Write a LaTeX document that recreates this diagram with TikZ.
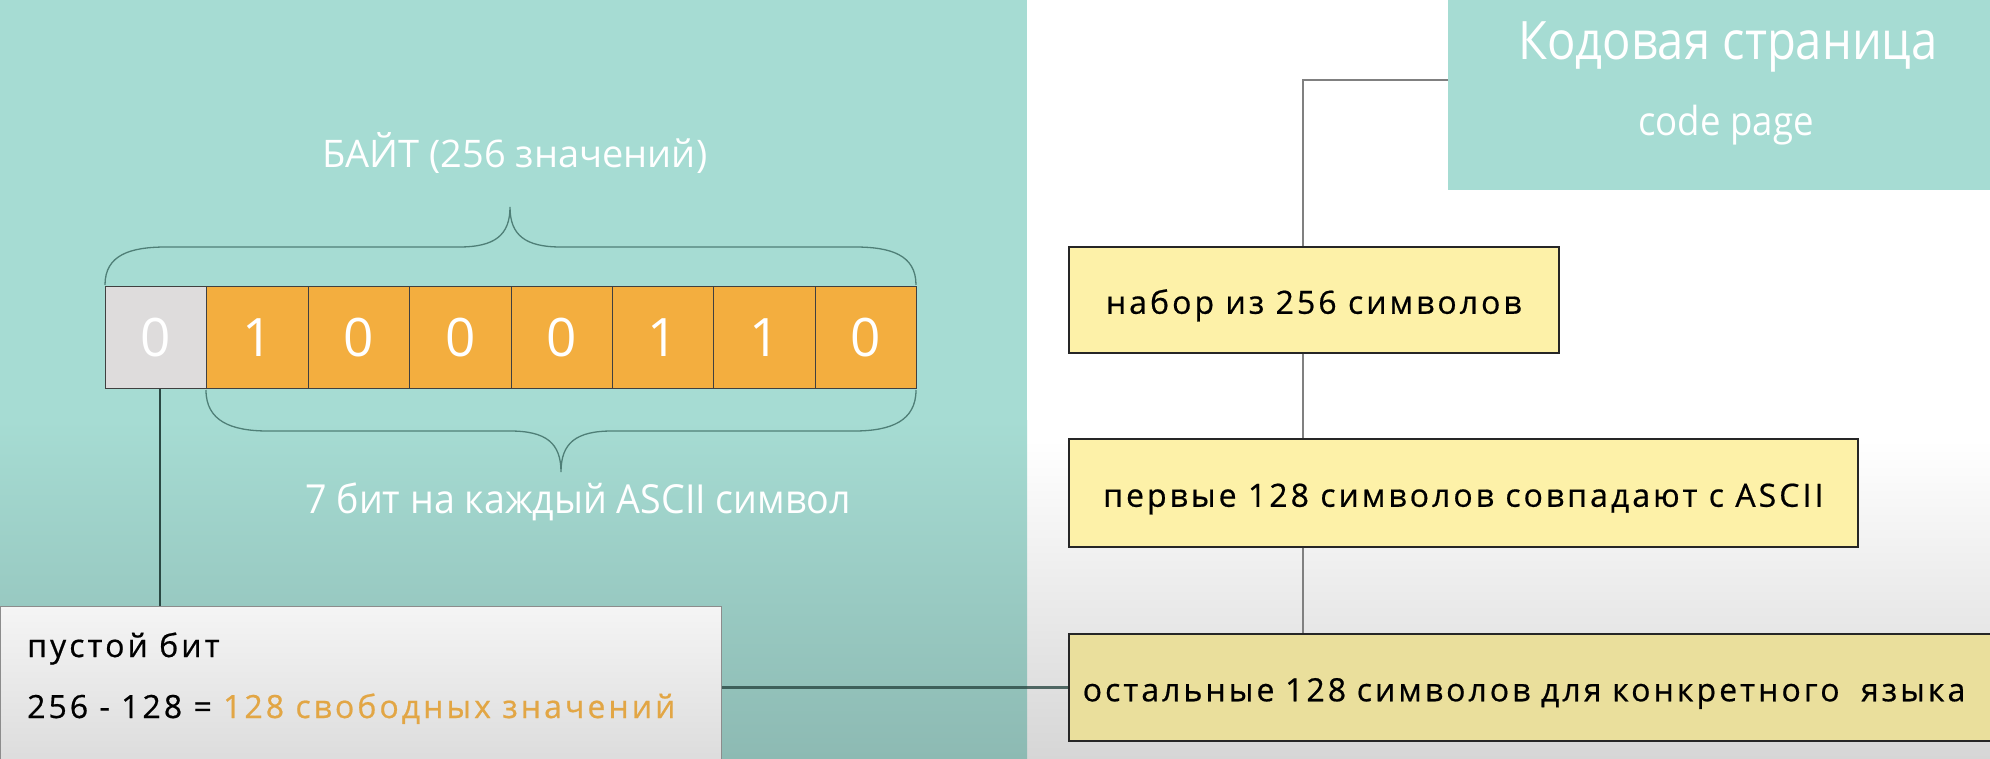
\documentclass[tikz,border=0pt]{standalone}
\usepackage{fontspec}
\setmainfont{Open Sans}
\newfontfamily\tightA{Open Sans}[FakeStretch=0.89]
\newfontfamily\tightB{Open Sans}[FakeStretch=0.915]
\newfontfamily\tightC{Open Sans}[FakeStretch=0.94]
\newfontfamily\spaced{Open Sans}[LetterSpace=9.5,FakeBold=0.6]
\definecolor{teal1}{HTML}{A6DCD3}
\definecolor{teal2}{HTML}{8DBAB3}
\definecolor{orng}{HTML}{F3AE3F}
\definecolor{cellgray}{HTML}{DEDCDC}
\definecolor{ylw}{HTML}{FDF1A8}
\definecolor{ylw3}{HTML}{EADF9C}
\definecolor{bracec}{HTML}{4F7F77}
\definecolor{txtor}{HTML}{E2A645}
\definecolor{darkln}{HTML}{2A4843}
\begin{document}
\begin{tikzpicture}[x=1pt,y=-1pt,
  cell/.style={draw=black!75, line width=0.8pt, minimum width=101.4pt, minimum height=102pt,
    inner sep=0pt, anchor=north west, text=white, font=\fontsize{53}{60}\selectfont},
  ybox/.style={draw=black!85, line width=1.5pt, fill=ylw, inner sep=0pt, text height=28pt,
    text depth=0pt, font=\spaced\fontsize{32}{36}\selectfont},
  gline/.style={draw=black!50, line width=1.2pt},
  bracel/.style={draw=bracec, line width=1.3pt},
  wtext/.style={text=white, inner sep=0pt},
  btext/.style={inner sep=0pt, anchor=base west, font=\spaced\fontsize{32}{36}\selectfont},
]
\useasboundingbox (0,0) rectangle (1990,758);
\clip (0,0) rectangle (1990,758);
% backgrounds
\fill[white] (1027,0) rectangle (1990,440);
\shade[top color=white, bottom color=black!16] (1027,440) rectangle (1990,758);
\fill[teal1] (0,0) rectangle (1027,420);
\shade[top color=teal1, bottom color=teal2] (0,420) rectangle (1027,758);

% title box
\node[fill=teal1, minimum width=560pt, minimum height=190pt, anchor=north west, inner sep=0pt] (title) at (1448,0) {};
\node[wtext, anchor=base, font=\tightA\fontsize{53}{60}\selectfont] (tt1) at (1728,59) {Кодовая страница};
\node[wtext, anchor=base, font=\tightB\fontsize{40}{46}\selectfont] (tt2) at (1726,135) {code page};

% byte cells
\node[cell, fill=cellgray] (c0) at (105,286) {0};
\foreach \i/\v in {1/1,2/0,3/0,4/0,5/1,6/1,7/0}{
  \node[cell, fill=orng] (c\i) at (105+\i*101.375,286) {\v};
}

% braces
\draw[bracel] (105,285) .. controls (105,255) and (130,247) .. (166,247)
  -- (459,247) .. controls (495,247) and (510,235) .. (510,207)
  .. controls (510,235) and (525,247) .. (561,247)
  -- (855,247) .. controls (891,247) and (916,255) .. (916,285);
\draw[bracel] (206,390) .. controls (206,421) and (231,431) .. (268,431)
  -- (510,431) .. controls (546,431) and (561,443) .. (561,472)
  .. controls (561,443) and (576,431) .. (612,431)
  -- (854,431) .. controls (891,431) and (916,421) .. (916,390);
\node[wtext, anchor=base, font=\fontsize{38}{44}\selectfont] (lbl1) at (515,167) {БАЙТ (256 значений)};
\node[wtext, anchor=base, font=\tightC\fontsize{40}{46}\selectfont] (lbl2) at (578,513) {7 бит на каждый ASCII символ};

% left box
\node[draw=black!45, line width=1.2pt, top color=white!96!black, bottom color=white!86!black,
  minimum width=721pt, minimum height=160pt, anchor=north west, inner sep=0pt] (lbox) at (0,606) {};
\node[btext] (lt1) at (27,657) {пустой бит};
\node[btext] (lt2) at (27,718) {256 - 128 = \textcolor{txtor}{128 свободных значений}};

% right boxes
\node[ybox, minimum width=490pt, minimum height=106pt, anchor=north west] (b1) at (1068,246) {набор из 256 символов};
\node[ybox, minimum width=789pt, minimum height=108pt, anchor=north west] (b2) at (1068,438) {первые 128 символов совпадают с ASCII};
\node[ybox, fill=ylw3, minimum height=107pt, text width=920pt, align=left, inner xsep=14pt, anchor=north west] (b3) at (1068,633) {остальные 128 символов для конкретного\ \ языка};

% connectors
\coordinate (trunk) at (1303,0);
\coordinate (tc) at (1448,80);
\draw[gline] (tc) -| (trunk |- b1.north);
\draw[gline] (trunk |- b1.south) -- (trunk |- b2.north);
\draw[gline] (trunk |- b2.south) -- (trunk |- b3.north);
\draw[draw=darkln, line width=1.5pt] ([xshift=4pt]c0.south) -- ([xshift=4pt]c0.south |- lbox.north);
\draw[draw=darkln, line width=3pt, opacity=0.8] (lbox.east |- b3.west) -- (b3.west);
\end{tikzpicture}
\end{document}
